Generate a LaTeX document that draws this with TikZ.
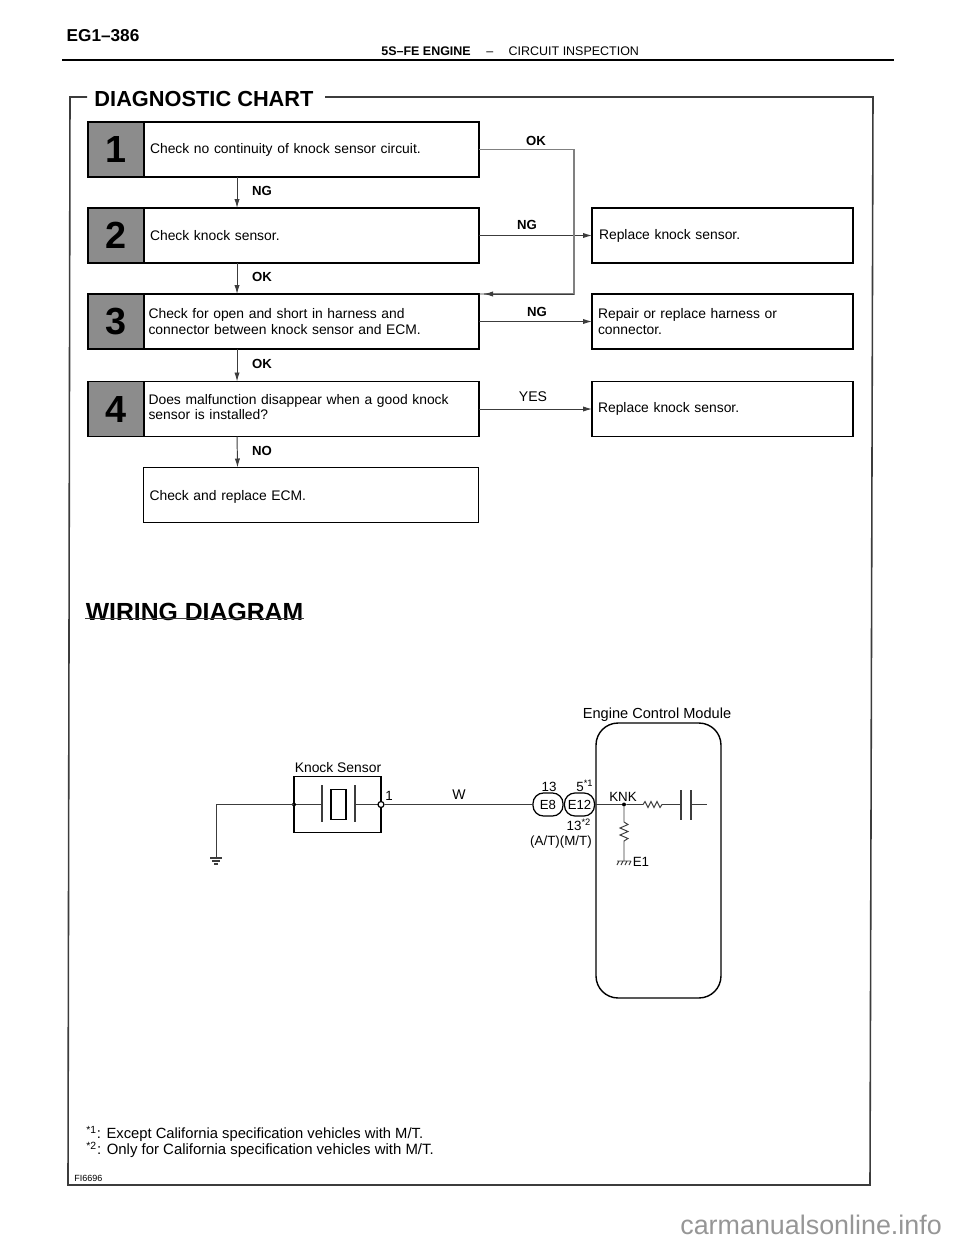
\documentclass[tikz,border=0pt]{standalone}
\usepackage{fontspec}
\setmainfont{Liberation Sans}
\usetikzlibrary{arrows.meta,calc}
\definecolor{cellgrey}{RGB}{140,140,140}
\definecolor{pencil}{RGB}{60,60,60}
\definecolor{markgrey}{RGB}{150,150,150}
\newcommand{\fsize}[1]{\fontsize{#1}{9.07}\selectfont}
\tikzset{
  wire/.style={pencil,line width=0.55pt},
  faint/.style={black!50,line width=0.6pt},
  flow/.style={pencil,line width=0.55pt,-{Latex[length=1.8mm,width=1.05mm]}},
  frame/.style={pencil,line width=0.9pt},
  stepbox/.style={draw=black,line width=0.75pt,fill=white,outer sep=0pt,
                  minimum height=1.1cm,inner xsep=0.12cm,inner ysep=0pt,
                  text width=6.46cm,align=left,font=\fsize{7.9}},
  fixbox/.style={stepbox,text width=4.98cm},
  numcell/.style={draw=black,line width=0.75pt,fill=cellgrey,outer sep=0pt,
                  minimum width=1.12cm,minimum height=1.1cm,inner sep=0pt,
                  font=\bfseries\fsize{21.5}},
  verdict/.style={font=\bfseries\fsize{7.5},inner sep=0pt},
  lab/.style={font=\fsize{8},inner sep=0pt},
  pinlab/.style={font=\fsize{7.6},inner sep=0pt},
  plug/.style={draw=black,line width=0.7pt,fill=white,rounded corners=0.21cm,outer sep=0pt,
               minimum width=0.6cm,minimum height=0.46cm,inner sep=0pt,font=\fsize{7.5}},
  joint/.style={circle,fill=black,inner sep=0pt,minimum size=0.08cm},
}
\begin{document}
\begin{tikzpicture}[x=0.02cm,y=-0.02cm]
  \path[use as bounding box] (0,0) rectangle (960,1242);

  % page head
  \node[inner sep=0pt,font=\bfseries\fsize{9.8}] (pageno) at (103,36) {EG1--386};
  \node[inner sep=0pt,anchor=west,font=\fsize{7.1}] (section) at (381,51.5)
    {\textbf{5S--FE ENGINE}\hspace{3.1mm}--\hspace{3.1mm}CIRCUIT INSPECTION};
  \draw[black,line width=1.1pt] (62,60) -- (894,60);

  % frame and headings
  \node[inner sep=0pt,font=\bfseries\fsize{12.4}] (charttitle) at (204,99) {DIAGNOSTIC CHART};
  \draw[frame] (87,97) -- (70,97) -- (68,1185) -- (870,1185) -- (873,97) -- (325,97);
  \node[inner sep=0pt,font=\bfseries\fsize{14.1}] (wiringtitle) at (194.5,612) {WIRING DIAGRAM};
  \draw[wire] (85,618.5) -- (304,618.5);

  % chart steps
  \node[numcell] (num1) at (116,149.5) {1};
  \node[numcell] (num2) at (116,235.5) {2};
  \node[numcell] (num3) at (116,321.5) {3};
  \node[numcell] (num4) at (116,409) {4};
  \node[stepbox] (chk1) at (311.5,149.5) {Check no continuity of knock sensor circuit.};
  \node[stepbox] (chk2) at (311.5,235.5) {Check knock sensor.};
  \node[stepbox] (chk3) at (311.5,321.5) {\hspace{-0.3mm}Check for open and short in harness and\\\hspace{-0.3mm}connector between knock sensor and ECM.};
  \node[stepbox] (chk4) at (311.5,409) {\hspace{-0.3mm}Does malfunction disappear when a good knock\\\hspace{-0.3mm}sensor is installed?\rule[-2.3pt]{0pt}{0pt}};
  \node[stepbox] (chk5) at (311,495) {Check and replace ECM.\rule{0pt}{8.1pt}};

  \node[fixbox] (fix2) at (722.5,235.5) {\hspace{0.2mm}Replace knock sensor.};
  \node[fixbox] (fix3) at (722.5,321.5) {Repair or replace harness or\\connector.};
  \node[fixbox] (fix4) at (722.5,409) {Replace knock sensor.};

  \draw[flow] ($(chk1.south west)+(93,0)$) -- ($(chk2.north west)+(93,0)$);
  \draw[flow] ($(chk2.south west)+(93,0)$) -- ($(chk3.north west)+(93,0)$);
  \draw[flow] ($(chk3.south west)+(93,0)$) -- ($(chk4.north west)+(93,0)$);
  \draw[flow] ($(chk4.south west)+(93,0)$) -- ($(chk5.north west)+(94,0)$);
  \draw[flow] (chk2.east) -- (fix2.west);
  \draw[flow] (chk3.east) -- (fix3.west);
  \draw[flow] (chk4.east) -- (fix4.west);

  \coordinate (bypass) at (574,222);
  \coordinate (merge) at (484,294);
  \draw[faint] (chk1.east) -| (bypass) |- (merge);
  \draw[flow] (bypass |- merge) -- (merge);
  \draw[wire] (merge) -- (chk3.north east);

  \node[verdict] (lab1) at (262,191) {NG};
  \node[verdict] (lab2) at (262,277) {OK};
  \node[verdict] (lab3) at (262,364) {OK};
  \node[verdict] (lab4) at (262,451) {NO};
  \node[verdict] (lab5) at (536,141) {OK};
  \node[verdict] (lab6) at (527,225) {NG};
  \node[verdict] (lab7) at (537,312) {NG};
  \node[lab] (lab8) at (533,397) {YES};

  % knock sensor
  \node[draw=black,line width=0.7pt,minimum width=1.74cm,minimum height=1.12cm,inner sep=0pt,outer sep=0pt] (sensor) at (337.5,804.5) {};
  \node[pinlab,font=\fsize{7.9}] (sensorlab) at (338,768) {Knock Sensor};
  \node[draw=black,line width=0.7pt,minimum width=0.3cm,minimum height=0.6cm,inner sep=0pt] (crystal) at (338.5,804.5) {};
  \coordinate (plateL) at (322,804.5);
  \coordinate (plateR) at (355,804.5);
  \draw[wire,line width=0.8pt] (322,785) -- (322,822);
  \draw[wire,line width=0.8pt] (355,785) -- (355,822);
  \draw[wire] (sensor.west) -- (plateL);
  \draw[wire] (plateR) -- (sensor.east);
  \node[joint] (gnddot) at (sensor.west) {};
  \coordinate (earth) at (216,857);
  \draw[wire] (sensor.west) -| (earth);
  \draw[wire,line width=0.8pt] (210,858) -- (222,858) (212,861) -- (220,861) (214,864) -- (218,864);
  \node[pinlab] (pin1) at (389,796) {1};
  \node[pinlab,font=\fsize{8}] (wirecol) at (459,795) {W};

  % connectors
  \node[plug] (e8) at (548,804.5) {E8};
  \node[plug] (e12) at (579.5,804.5) {E12};
  \node[circle,draw=black,line width=0.7pt,fill=white,minimum size=0.12cm,inner sep=0pt] (pinA) at (sensor.east) {};
  \draw[wire] (pinA) -- (e8.west);
  \node[pinlab] (pinE8) at (549,786.5) {13};
  \node[pinlab] (pinE12) at (585,786) {5\textsuperscript{*1}};
  \node[pinlab] (pinE12b) at (579,825) {13\textsuperscript{*2}};
  \node[pinlab] (pinkind) at (561,842) {(A/T)(M/T)};

  % engine control module
  \node[draw=black,line width=0.8pt,rounded corners=0.44cm,minimum width=2.5cm,minimum height=5.5cm,outer sep=0pt] (ecm) at (658.5,860.5) {};
  \node[pinlab,font=\fsize{8.3}] (ecmlab) at (657,715) {Engine Control Module};
  \node[joint] (knk) at (624,804.5) {};
  \node[pinlab] (knklab) at (623,797) {KNK};
  \draw[wire] (e12.east) -- (knk);
  \draw[wire] (knk) -- (643,804.5) -- (645,801.5) -- (648,807.5) -- (651,801.5) -- (654,807.5) -- (657,801.5) -- (660,807.5) -- (662,804.5) -- (681,804.5);
  \draw[wire,line width=0.8pt] (681,790) -- (681,820);
  \draw[wire,line width=0.8pt] (691,790) -- (691,820);
  \draw[wire] (691,804.5) -- (707,804.5);
  \draw[wire] (knk) -- (624,822) -- (628,824.5) -- (620,828) -- (628,831.5) -- (620,835) -- (628,838.5) -- (624,841) -- (624,861);
  \draw[wire] (617,861) -- (631,861) (619,861) -- (617,865) (623,861) -- (621,865) (627,861) -- (625,865) (631,861) -- (629,865);
  \node[pinlab] (e1lab) at (641,862) {E1};

  % foot notes
  \node[inner sep=0pt,anchor=west,font=\fsize{8.4}] (note1) at (86,1134) {\textsuperscript{*1}: Except California specification vehicles with M/T.};
  \node[inner sep=0pt,anchor=west,font=\fsize{8.5}] (note2) at (86,1150) {\textsuperscript{*2}: Only for California specification vehicles with M/T.};
  \node[inner sep=0pt,anchor=west,font=\fsize{5.1}] (figno) at (74,1178) {FI6696};
  \node[inner sep=0pt,anchor=west,text=markgrey,font=\fsize{15.3}] (mark) at (680,1225) {carmanualsonline.info};
\end{tikzpicture}
\end{document}
